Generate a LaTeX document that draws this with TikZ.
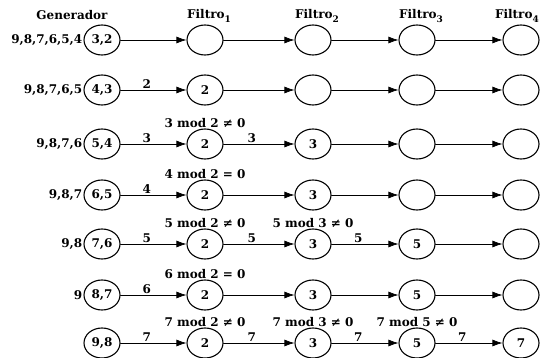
\documentclass[tikz,border=0pt]{standalone}
\usepackage{fontspec}
\setmainfont{DejaVu Serif}
\usetikzlibrary{arrows.meta, positioning, shapes.geometric}

\newcommand{\bigbf}{\fontsize{12}{14}\selectfont\bfseries}
\newcommand{\sub}[1]{\raisebox{-4pt}{\fontsize{9}{9}\selectfont #1}}

\tikzset{
  proc/.style={draw, ellipse, line width=1.1pt, minimum width=36pt, minimum height=30pt, inner sep=0pt, font=\bigbf},
  hdr/.style={font=\bigbf, inner sep=1pt},
  txt/.style={font=\bigbf, inner sep=1pt},
  flow/.style={->, line width=0.7pt},
}

\begin{document}
\begin{tikzpicture}[x=1pt, y=-1pt, line cap=round, line join=round,
    >={Latex[length=10pt,width=7pt]}]
  \useasboundingbox (0,0) rectangle (540,358);

  % column titles
  \node[hdr] (hgen) at (72,15) {Generador};
  \node[hdr] (hf1) at (209,16) {Filtro\sub{1}};
  \node[hdr] (hf2) at (317,16) {Filtro\sub{2}};
  \node[hdr] (hf3) at (421,16) {Filtro\sub{3}};
  \node[hdr, anchor=east] (hf4) at (540,16) {Filtro\sub{4}};

  % one row per step: generator with its queue, then the four filters
  \foreach \r/\y/\gen/\rest/\fa/\fb/\fc/\fd in {
      1/40/{3,2}/{9,8,7,6,5,4}/{}/{}/{}/{},
      2/90/{4,3}/{9,8,7,6,5}/2/{}/{}/{},
      3/144/{5,4}/{9,8,7,6}/2/3/{}/{},
      4/195/{6,5}/{9,8,7}/2/3/{}/{},
      5/244/{7,6}/{9,8}/2/3/5/{},
      6/295/{8,7}/{9}/2/3/5/{},
      7/343/{9,8}/{}/2/3/5/7}
  {
    \node[proc] (g\r) at (102,\y) {\gen\hspace{5pt}};
    \node[txt, anchor=east] (p\r) at (g\r.west) {\rest};
    \node[proc] (a\r) at (205,\y) {\fa};
    \node[proc] (b\r) at (313,\y) {\fb};
    \node[proc] (c\r) at (417,\y) {\fc};
    \node[proc] (d\r) at (521,\y) {\fd};
    \draw[flow] (g\r) -- (a\r);
    \draw[flow] (a\r) -- (b\r);
    \draw[flow] (b\r) -- (c\r);
    \draw[flow] (c\r) -- (d\r);
  }

  % numbers travelling along the arrows
  \foreach \r/\src/\dst/\v in {2/g/a/2, 3/g/a/3, 3/a/b/3, 4/g/a/4,
      5/g/a/5, 5/a/b/5, 5/b/c/5, 6/g/a/6, 7/g/a/7, 7/a/b/7, 7/b/c/7, 7/c/d/7}
    \path (\src\r) -- node[txt, pos=0.4, above=0pt] (n\r\src) {\v} (\dst\r);

  % divisibility tests
  \node[txt, above=0pt of a3] (m32) {3 mod 2 ≠ 0};
  \node[txt, above=0pt of a4] (m42) {4 mod 2 = 0};
  \node[txt, above=0pt of a5] (m52) {5 mod 2 ≠ 0};
  \node[txt, above=0pt of b5] (m53) {5 mod 3 ≠ 0};
  \node[txt, above=0pt of a6] (m62) {6 mod 2 = 0};
  \node[txt, above=0pt of a7] (m72) {7 mod 2 ≠ 0};
  \node[txt, above=0pt of b7] (m73) {7 mod 3 ≠ 0};
  \node[txt, above=0pt of c7] (m75) {7 mod 5 ≠ 0};
\end{tikzpicture}
\end{document}
